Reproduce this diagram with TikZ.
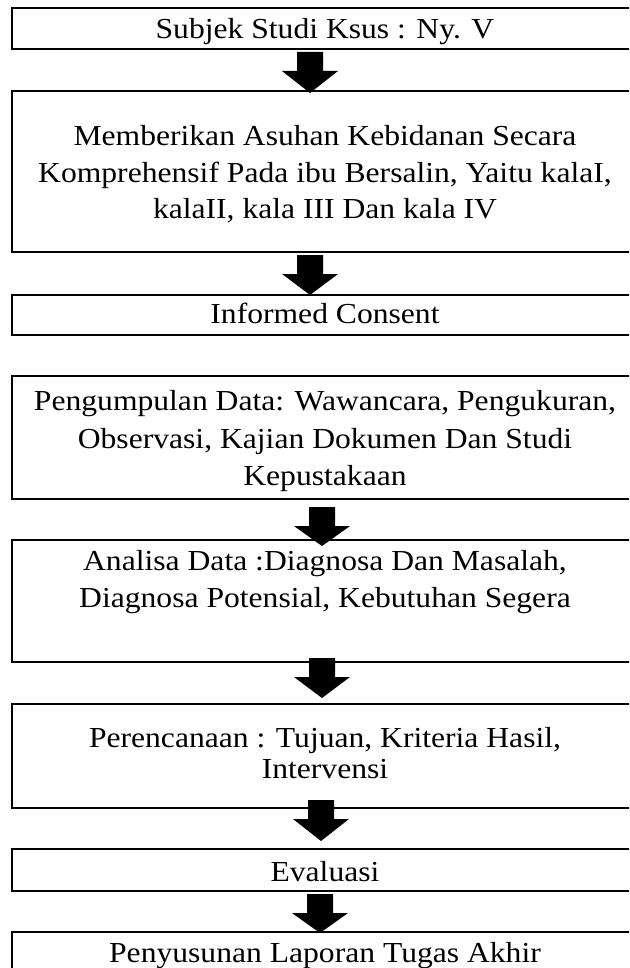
\documentclass[tikz,border=0pt]{standalone}
\usepackage{fontspec}
\setmainfont[FakeStretch=1.09]{Liberation Serif}
\begin{document}
\begin{tikzpicture}[x=1pt,y=1pt,
  box/.style={draw=black, line width=1.4pt, minimum width=626pt, inner sep=0pt, outer sep=0pt, anchor=north west},
  txt/.style={anchor=base, inner sep=0pt, font=\fontsize{29}{37}\selectfont},
  blk/.style={fill=black}]
\useasboundingbox (0,0) rectangle (629,-968);
\begin{scope}
\clip (0,0) rectangle (629,-968);
% boxes
\node[box, minimum height=41pt]  (b1) at (12,-8)   {};
\node[box, minimum height=161pt] (b2) at (12,-91)  {};
\node[box, minimum height=40pt]  (b3) at (12,-295) {};
\node[box, minimum height=123pt] (b4) at (12,-376) {};
\node[box, minimum height=122pt] (b5) at (12,-540) {};
\node[box, minimum height=104pt] (b6) at (12,-704) {};
\node[box, minimum height=42pt]  (b7) at (12,-849) {};
\node[box, minimum height=70pt]  (b8) at (12,-932) {};
% texts
\node[txt] (t1)  at (325,-39)  {Subjek Studi Ksus : Ny. V};
\node[txt] (t2a) at (325,-146) {Memberikan Asuhan Kebidanan Secara};
\node[txt] (t2b) at (325,-183) {Komprehensif Pada ibu Bersalin, Yaitu kalaI,};
\node[txt] (t2c) at (325,-219) {kalaII, kala III Dan kala IV};
\node[txt] (t3)  at (325,-323) {Informed Consent};
\node[txt] (t4a) at (325,-410) {Pengumpulan Data: Wawancara, Pengukuran,};
\node[txt] (t4b) at (325,-448) {Observasi, Kajian Dokumen Dan Studi};
\node[txt] (t4c) at (325,-485) {Kepustakaan};
\node[txt] (t5a) at (325,-570) {Analisa Data :Diagnosa Dan Masalah,};
\node[txt] (t5b) at (325,-607) {Diagnosa Potensial, Kebutuhan Segera};
\node[txt] (t6a) at (325,-747) {Perencanaan : Tujuan, Kriteria Hasil,};
\node[txt] (t6b) at (325,-778) {Intervensi};
\node[txt] (t7)  at (325,-881) {Evaluasi};
\node[txt] (t8)  at (325,-962) {Penyusunan Laporan Tugas Akhir};
% block arrows between boxes: from/to, x, shaft top, tip
\foreach \fr/\to/\ax/\at/\ap in {b1/b2/310/52/93, b2/b3/310/255/295, b4/b5/322/507/546, b5/b6/322/658/698, b6/b7/321/800/841, b7/b8/320/894/933}{
  \fill[blk] (\ax-13,-\at) -- (\ax+13,-\at) -- (\ax+13,-\at-19) -- (\ax+28,-\at-19)
     -- (\ax,-\ap) -- (\ax-28,-\at-19) -- (\ax-13,-\at-19) -- cycle;
}
\end{scope}
\end{tikzpicture}
\end{document}
